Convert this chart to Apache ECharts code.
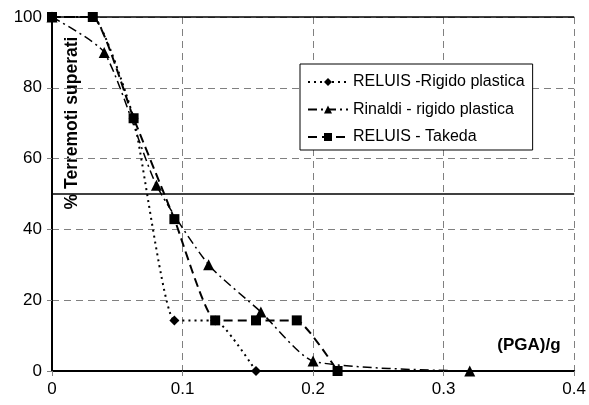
<!DOCTYPE html>
<html>
<head>
<meta charset="utf-8">
<script src="https://cdn.jsdelivr.net/npm/echarts@6/dist/echarts.min.js"></script>
<style>
  html, body { margin: 0; padding: 0; background: #fff; }
  #chart { width: 589px; height: 405px; }
</style>
</head>
<body>
<div id="chart"></div>
<script>
// dati
const xTakeda = [0, 0.03125, 0.0625, 0.09375, 0.125, 0.15625, 0.1875, 0.21875]
const yTakeda = [100, 100, 71.4, 42.9, 14.3, 14.3, 14.3, 0]

const xRigido = [0, 0.03125, 0.0625, 0.09375, 0.125, 0.15625]
const yRigido = [100, 100, 71.4, 14.3, 14.3, 0]

const xRinaldi = [0, 0.04, 0.08, 0.12, 0.16, 0.2, 0.32]
const yRinaldi = [100, 90, 52.5, 30, 16.7, 2.8, 0]

const xTicks = [0, 0.1, 0.2, 0.3, 0.4]
const yTicks = [0, 20, 40, 60, 80, 100]
const refLines = [50, 100]

const names = ['RELUIS -Rigido plastica', 'Rinaldi - rigido plastica', 'RELUIS - Takeda']

const font = 'Liberation Sans, Arial, sans-serif'
const zip = (xs, ys) => xs.map((x, i) => [x, ys[i]])

const chart = echarts.init(document.getElementById('chart'))

const axisCommon = {
  type: 'value',
  axisLine: { show: true, lineStyle: { color: '#000', width: 2 } },
  axisTick: { show: true, length: 5, lineStyle: { color: '#808080' } },
  axisLabel: { color: '#000', fontSize: 17, fontFamily: font, margin: 10 },
  splitLine: { show: true, lineStyle: { color: '#808080', width: 1, type: [7, 5] } }
}

const option = {
  animation: false,
  grid: { left: 52, right: 13, top: 17, bottom: 34 },
  xAxis: {
    ...axisCommon,
    min: xTicks[0],
    max: xTicks[xTicks.length - 1],
    interval: 0.1
  },
  yAxis: {
    ...axisCommon,
    min: yTicks[0],
    max: yTicks[yTicks.length - 1],
    interval: 20
  },
  legend: {
    orient: 'vertical',
    left: 300,
    top: 64,
    width: 232,
    padding: [10, 8, 5, 7],
    itemWidth: 40,
    itemHeight: 10,
    itemGap: 11.5,
    backgroundColor: '#fff',
    borderColor: '#000',
    borderWidth: 1,
    textStyle: { color: '#000', fontSize: 16, fontFamily: font },
    data: names
  },
  graphic: [
    {
      type: 'text',
      x: 72,
      y: 123,
      rotation: Math.PI / 2,
      style: {
        text: '% Terremoti superati',
        font: 'bold 17.5px ' + font,
        fill: '#000',
        align: 'center',
        verticalAlign: 'middle'
      }
    },
    {
      type: 'text',
      x: 529,
      y: 345,
      style: {
        text: '(PGA)/g',
        font: 'bold 17px ' + font,
        fill: '#000',
        align: 'center',
        verticalAlign: 'middle'
      }
    }
  ],
  series: [
    {
      name: names[0],
      type: 'line',
      data: zip(xRigido, yRigido),
      smooth: 0.15,
      symbol: 'diamond',
      symbolSize: 10,
      itemStyle: { color: '#000' },
      lineStyle: { color: '#000', width: 2, type: [2, 4] },
      markLine: {
        silent: true,
        symbol: 'none',
        label: { show: false },
        lineStyle: { color: '#000', width: 1.5, type: 'solid' },
        data: refLines.map(v => ({ yAxis: v }))
      },
      z: 3
    },
    {
      name: names[1],
      type: 'line',
      data: zip(xRinaldi, yRinaldi),
      smooth: 0.2,
      symbol: 'triangle',
      symbolSize: 11,
      itemStyle: { color: '#000' },
      lineStyle: { color: '#000', width: 1.5, type: [9, 4, 2, 4] },
      z: 4
    },
    {
      name: names[2],
      type: 'line',
      data: zip(xTakeda, yTakeda),
      smooth: 0.15,
      symbol: 'rect',
      symbolSize: 10,
      itemStyle: { color: '#000' },
      lineStyle: { color: '#000', width: 2, type: [9, 5] },
      z: 5
    }
  ]
}

chart.setOption(option)
</script>
</body>
</html>
